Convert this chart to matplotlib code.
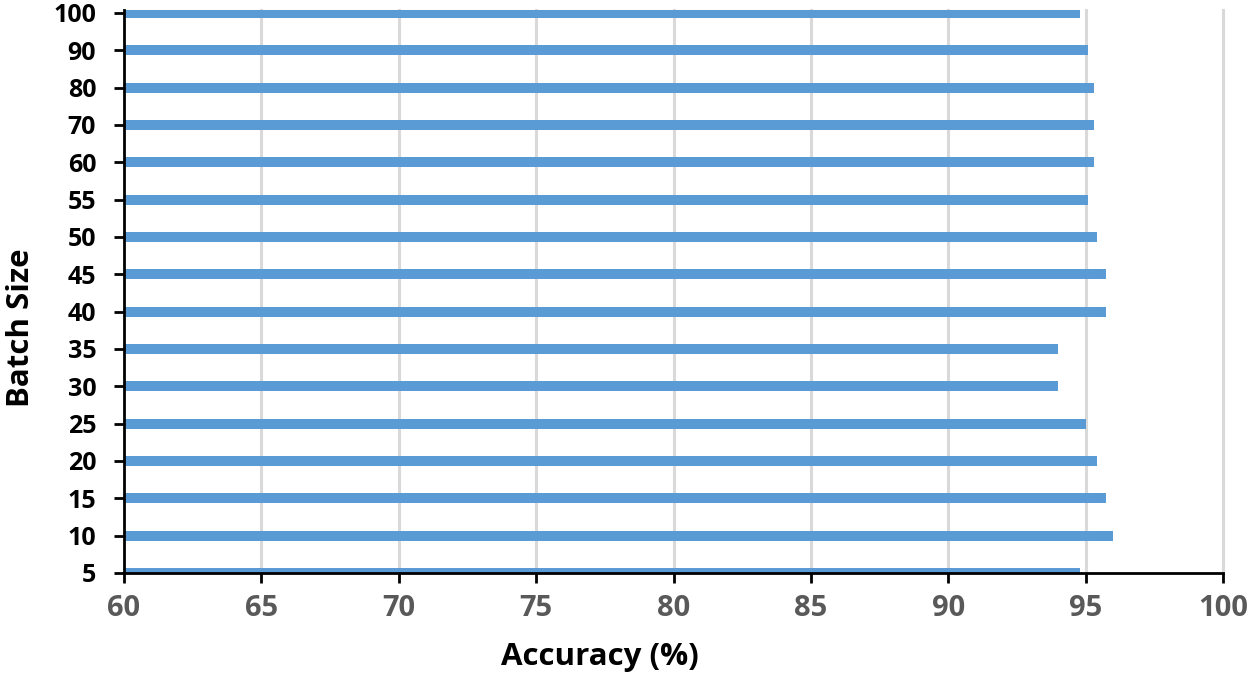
import matplotlib.pyplot as plt
import numpy as np

batch_sizes = ["5", "10", "15", "20", "25", "30", "35", "40", "45", "50", "55", "60", "70", "80", "90", "100"]
accuracy = [94.8, 96.0, 95.75, 95.4, 95.0, 94.0, 94.0, 95.75, 95.75, 95.4, 95.1, 95.3, 95.3, 95.3, 95.1, 94.8]
x_ticks = [60, 65, 70, 75, 80, 85, 90, 95, 100]

plt.rcParams['font.family'] = ['Open Sans', 'DejaVu Sans']

fig = plt.figure(figsize=(12.55, 6.91), dpi=100)
ax = fig.add_axes([124/1255, 1-573/691, (1223-124)/1255, (573-10)/691])

pos = np.arange(len(batch_sizes))
ax.barh(pos, accuracy, height=0.27, color="#5B9BD5", zorder=2)

ax.set_xlim(60, 100)
ax.set_ylim(0, 15.08)
ax.set_xticks(x_ticks)
ax.set_xticklabels([str(v) for v in x_ticks], fontsize=21, fontweight="bold", color="#595959")
ax.set_yticks(pos)
ax.set_yticklabels(batch_sizes, fontsize=18, fontweight="bold", color="black")

for xv in x_ticks[1:]:
    ax.axvline(xv, color="#d9d9d9", linewidth=2.2, zorder=0, clip_on=False)
for s in ["top", "right"]:
    ax.spines[s].set_visible(False)
for s in ["left", "bottom"]:
    ax.spines[s].set_linewidth(2)
    ax.spines[s].set_color("black")
    ax.spines[s].set_zorder(3)
ax.tick_params(axis="both", direction="out", length=7, width=2, color="black")
ax.tick_params(axis="x", pad=8)
ax.tick_params(axis="y", pad=13)

fig.text(600/1255, 1-657/691, "Accuracy (%)", fontsize=22.5, fontweight="bold",
         ha="center", va="center")
fig.text(21/1255, 1-328/691, "Batch Size", fontsize=22.5, fontweight="bold",
         ha="center", va="center", rotation=90)

fig.savefig("out.png", dpi=100)
